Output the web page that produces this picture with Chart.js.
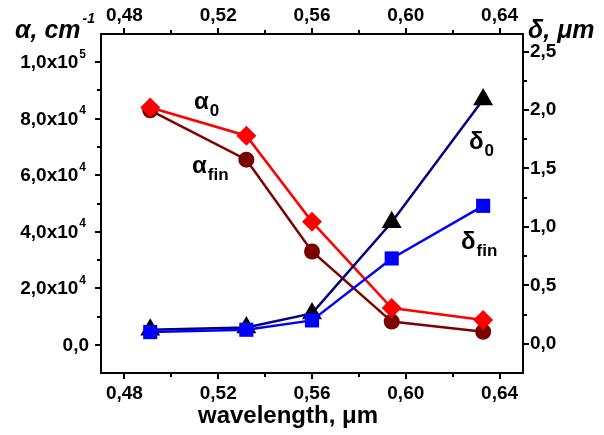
<!DOCTYPE html>
<html><head><meta charset="utf-8">
<script src="https://cdn.jsdelivr.net/npm/chart.js@4.4.0/dist/chart.umd.min.js"></script>
<style>html,body{margin:0;padding:0;background:#fff}#wrap{width:604px;height:435px;position:relative}</style>
</head><body><div id="wrap"><canvas id="c" width="604" height="435"></canvas></div>
<script>
// ---- data ----
const wavelength = [0.491, 0.532, 0.560, 0.594, 0.633];
const alpha0    = [84000, 74000, 43500, 13000, 8800];
const alphaFin  = [83000, 65500, 33000, 8200, 4600];
const delta0    = [0.12, 0.14, 0.26, 1.04, 2.09];
const deltaFin  = [0.10, 0.12, 0.20, 0.73, 1.18];

// ---- tick labels ----
const xTickValues = [0.48, 0.52, 0.56, 0.60, 0.64];
const xTickLabels = ['0,48', '0,52', '0,56', '0,60', '0,64'];
const alphaTickValues = [0, 20000, 40000, 60000, 80000, 100000];
const alphaTickMantissa = ['0,0', '2,0x10', '4,0x10', '6,0x10', '8,0x10', '1,0x10'];
const alphaTickExponent = ['', '4', '4', '4', '4', '5'];
const deltaTickValues = [0, 0.5, 1.0, 1.5, 2.0, 2.5];
const deltaTickLabels = ['0,0', '0,5', '1,0', '1,5', '2,0', '2,5'];

const FONT = '"Liberation Sans", Arial, sans-serif';
const pts = (ys) => wavelength.map((w, i) => ({x: w, y: ys[i]}));
const mids = (arr) => arr.slice(1).map((v, i) => (v + arr[i]) / 2);

function fixedTicks(values) {
  return (scale) => { scale.ticks = values.map(v => ({value: v})); };
}
function labelFor(values, labels) {
  return (v) => { const i = values.findIndex(t => Math.abs(t - v) < 1e-9); return i >= 0 ? labels[i] : ''; };
}

const deco = {
  id: 'deco',
  afterDraw(chart) {
    const ctx = chart.ctx;
    const {x, y, y2} = chart.scales;
    const a = chart.chartArea;
    ctx.save();
    ctx.strokeStyle = '#000';
    ctx.lineWidth = 2;
    const seg = (x1, y1, x2, y2_) => { ctx.beginPath(); ctx.moveTo(x1, y1); ctx.lineTo(x2, y2_); ctx.stroke(); };
    const xMinor = mids(xTickValues);
    xTickValues.forEach(v => { const p = Math.round(x.getPixelForValue(v)); seg(p, a.bottom, p, a.bottom + 6); seg(p, a.top, p, a.top - 6); });
    xMinor.forEach(v => { const p = Math.round(x.getPixelForValue(v)); seg(p, a.bottom, p, a.bottom + 4); seg(p, a.top, p, a.top - 4); });
    alphaTickValues.forEach(v => { const p = Math.round(y.getPixelForValue(v)); seg(a.left, p, a.left - 6, p); });
    mids(alphaTickValues).forEach(v => { const p = Math.round(y.getPixelForValue(v)); seg(a.left, p, a.left - 4, p); });
    deltaTickValues.forEach(v => { const p = Math.round(y2.getPixelForValue(v)); seg(a.right, p, a.right + 6, p); });
    mids(deltaTickValues).forEach(v => { const p = Math.round(y2.getPixelForValue(v)); seg(a.right, p, a.right + 4, p); });

    ctx.fillStyle = '#000';
    ctx.textBaseline = 'middle';
    alphaTickValues.forEach((v, i) => {
      const p = y.getPixelForValue(v);
      const exp = alphaTickExponent[i];
      ctx.font = 'bold 12px ' + FONT;
      const ew = exp ? ctx.measureText(exp).width : 0;
      const right = exp ? 86 : 90;
      ctx.textAlign = 'left';
      if (exp) ctx.fillText(exp, right - ew, p - 8);
      ctx.font = 'bold 19px ' + FONT;
      ctx.textAlign = 'right';
      ctx.fillText(alphaTickMantissa[i], right - ew - 1, p + 1);
    });

    ctx.textBaseline = 'alphabetic';
    ctx.textAlign = 'left';
    ctx.font = 'italic bold 25px ' + FONT;
    ctx.fillText('\u03B1, cm', 15, 38);
    let w = ctx.measureText('\u03B1, cm').width;
    ctx.font = 'italic bold 14px ' + FONT;
    ctx.fillText('-1', 15 + w + 2, 23);
    ctx.font = 'italic bold 25px ' + FONT;
    ctx.fillText('\u03B4, \u03BCm', 528, 38);

    ctx.font = 'bold 24px ' + FONT;
    ctx.textAlign = 'center';
    ctx.fillText('wavelength, \u03BCm', 288, 423);

    const lab = (main, sub, lx, by, col) => {
      ctx.fillStyle = col;
      ctx.textAlign = 'left';
      ctx.font = 'bold 24px ' + FONT;
      ctx.fillText(main, lx, by);
      const mw = ctx.measureText(main).width;
      ctx.font = 'bold 17px ' + FONT;
      ctx.fillText(sub, lx + mw + 1, by + 7);
    };
    lab('\u03B1', '0', 194, 109, '#000');
    lab('\u03B1', 'fin', 192, 173, '#000');
    lab('\u03B4', '0', 469, 149, '#000');
    lab('\u03B4', 'fin', 461, 249, '#000');
    ctx.restore();
  }
};

const common = {borderWidth: 2.5, pointBorderWidth: 0, tension: 0, fill: false};

new Chart(document.getElementById('c'), {
  type: 'line',
  data: {
    datasets: [
      Object.assign({label: '\u03B4fin', data: pts(deltaFin), yAxisID: 'y2', borderColor: '#0000ff', backgroundColor: '#0000ff',
        pointStyle: 'rect', pointRadius: 10, pointBackgroundColor: '#0000ff'}, common),
      Object.assign({label: '\u03B40', data: pts(delta0), yAxisID: 'y2', borderColor: '#000080', backgroundColor: '#000000',
        pointStyle: 'triangle', pointRadius: 11.5, pointBackgroundColor: '#000000'}, common),
      Object.assign({label: '\u03B10', data: pts(alpha0), yAxisID: 'y', borderColor: '#ff0000', backgroundColor: '#ff0000',
        pointStyle: 'rectRot', pointRadius: 10, pointBackgroundColor: '#ff0000'}, common),
      Object.assign({label: '\u03B1fin', data: pts(alphaFin), yAxisID: 'y', borderColor: '#800000', backgroundColor: '#800000',
        pointStyle: 'circle', pointRadius: 8, pointBackgroundColor: '#7a0000'}, common)
    ]
  },
  options: {
    responsive: false,
    animation: false,
    devicePixelRatio: 1,
    layout: {padding: 0},
    plugins: {legend: {display: false}, tooltip: {enabled: false}},
    scales: {
      x: {
        type: 'linear', position: 'bottom', min: 0.47, max: 0.65,
        afterBuildTicks: fixedTicks(xTickValues),
        afterFit: (s) => { s.height = 62; },
        grid: {display: false, drawTicks: false},
        border: {display: true, color: '#000', width: 2},
        ticks: {color: '#000', padding: 9, maxRotation: 0, autoSkip: false, font: {family: FONT, size: 19, weight: 'bold'},
          callback: labelFor(xTickValues, xTickLabels)}
      },
      x2: {
        type: 'linear', position: 'top', min: 0.47, max: 0.65,
        afterBuildTicks: fixedTicks(xTickValues),
        afterFit: (s) => { s.height = 34; },
        grid: {display: false, drawTicks: false},
        border: {display: true, color: '#000', width: 2},
        ticks: {color: '#000', padding: 7, maxRotation: 0, autoSkip: false, font: {family: FONT, size: 19, weight: 'bold'},
          callback: labelFor(xTickValues, xTickLabels)}
      },
      y: {
        type: 'linear', position: 'left', min: -10000, max: 110000,
        afterBuildTicks: fixedTicks(alphaTickValues),
        afterFit: (s) => { s.width = 101; },
        grid: {display: false, drawTicks: false},
        border: {display: true, color: '#000', width: 2},
        ticks: {display: false}
      },
      y2: {
        type: 'linear', position: 'right', min: -0.25, max: 2.65,
        afterBuildTicks: fixedTicks(deltaTickValues),
        afterFit: (s) => { s.width = 81; },
        grid: {display: false, drawTicks: false},
        border: {display: true, color: '#000', width: 2},
        ticks: {color: '#000', padding: 7, autoSkip: false, font: {family: FONT, size: 19, weight: 'bold'},
          callback: labelFor(deltaTickValues, deltaTickLabels)}
      }
    }
  },
  plugins: [deco]
});
</script>
</body></html>
